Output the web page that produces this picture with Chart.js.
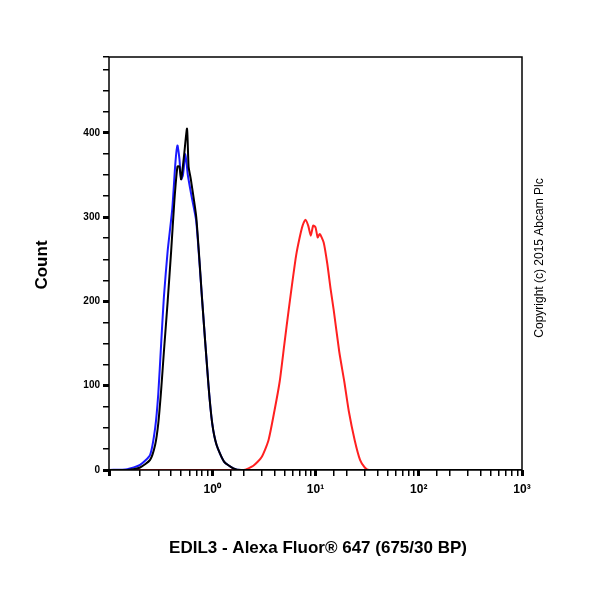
<!DOCTYPE html>
<html><head><meta charset="utf-8">
<script src="https://cdn.jsdelivr.net/npm/chart.js@4"></script>
<style>body{margin:0;background:#fff}#w{width:600px;height:600px}</style>
</head><body><div id="w"><canvas id="c"></canvas></div>
<script>
const blackX=[0.1,0.15,0.2,0.25,0.28,0.3,0.32,0.34,0.37,0.4,0.43,0.46,0.48,0.5,0.53,0.57,0.59,0.62,0.7,0.8,0.92,1.0,1.1,1.3,1.6,1.9,1000];
const blackY=[0,0,3,12,30,55,95,140,200,260,320,360,360,345,370,405,360,345,300,200,100,55,30,10,2,0,0];
const blueX=[0.1,0.15,0.2,0.25,0.28,0.3,0.32,0.34,0.37,0.41,0.44,0.46,0.48,0.5,0.52,0.55,0.58,0.63,0.7,0.8,0.92,1.0,1.1,1.3,1.6,1.9,1000];
const blueY=[0,1,6,18,50,90,150,205,260,310,365,385,370,345,350,375,350,325,295,200,100,55,30,10,2,0,0];
const redX=[0.1,2,2.5,3,3.5,4,4.5,5,5.5,6,6.5,7,7.5,8,8.5,9,9.5,10,10.5,11,12,13,14,15,17,19,21,24,27,30,33,1000];
const redY=[0,0,5,15,35,70,105,150,190,225,255,275,290,297,290,278,290,288,276,280,270,245,215,190,140,105,70,35,12,3,0,0];
const yTicks=[0,100,200,300,400];
const xTitle='EDIL3 - Alexa Fluor® 647 (675/30 BP)';
const yTitle='Count';
const copyright='Copyright (c) 2015 Abcam Plc';
const sup={0:'⁰',1:'¹',2:'²',3:'³'};
const pts=(xs,ys)=>xs.map((x,i)=>({x,y:ys[i]}));
const ds=(xs,ys,c)=>({data:pts(xs,ys),borderColor:c,borderWidth:2,pointRadius:0,tension:0.2,fill:false});
const extras={id:'extras',afterDraw(ch){const {ctx,chartArea:a}=ch;ctx.save();
ctx.strokeStyle='#000';ctx.lineWidth=1.5;ctx.strokeRect(a.left,a.top,a.right-a.left,a.bottom-a.top);
ctx.fillStyle='#000';ctx.font='bold 17px Arial';ctx.textAlign='center';ctx.textBaseline='middle';
ctx.fillText(xTitle,318,548);
ctx.save();ctx.translate(42,265);ctx.rotate(-Math.PI/2);ctx.fillText(yTitle,0,0);ctx.restore();
ctx.save();ctx.translate(540,258);ctx.rotate(-Math.PI/2);ctx.font='12px Arial';ctx.fillText(copyright,0,0);ctx.restore();
ctx.restore();}};
new Chart(document.getElementById('c'),{type:'line',
data:{datasets:[ds(blackX,blackY,'#000'),ds(blueX,blueY,'#1a1aff'),ds(redX,redY,'#ff2020')]},
options:{responsive:true,maintainAspectRatio:false,animation:false,
layout:{padding:{top:57,right:78,left:0,bottom:0}},
plugins:{legend:{display:false},tooltip:{enabled:false}},
scales:{
x:{type:'logarithmic',min:0.1,max:1000,
 afterFit(s){s.height=130;},
 grid:{display:true,drawOnChartArea:false,tickLength:6,color:'#000',lineWidth:c=>{const v=c.tick&&c.tick.value;return v&&Math.abs(Math.log10(v)-Math.round(Math.log10(v)))<1e-6?3:1.5;}},
 border:{display:false},
 ticks:{autoSkip:false,maxRotation:0,color:'#000',font:{family:'Arial',size:12,weight:'bold'},padding:6,
  callback:v=>{const l=Math.log10(v);const r=Math.round(l);return Math.abs(l-r)<1e-6&&r>=0?'10'+sup[r]:'';}}},
y:{min:0,max:490,
 afterFit(s){s.width=109;},
 grid:{display:true,drawOnChartArea:false,tickLength:6,color:'#000',lineWidth:c=>c.tick&&c.tick.value%100===0?3:1.5},
 border:{display:false},
 ticks:{stepSize:25,autoSkip:false,color:'#000',font:{family:'Arial',size:10,weight:'bold'},padding:3,
  callback:v=>yTicks.includes(v)?String(v):''}}}},
plugins:[extras]});
</script></body></html>
